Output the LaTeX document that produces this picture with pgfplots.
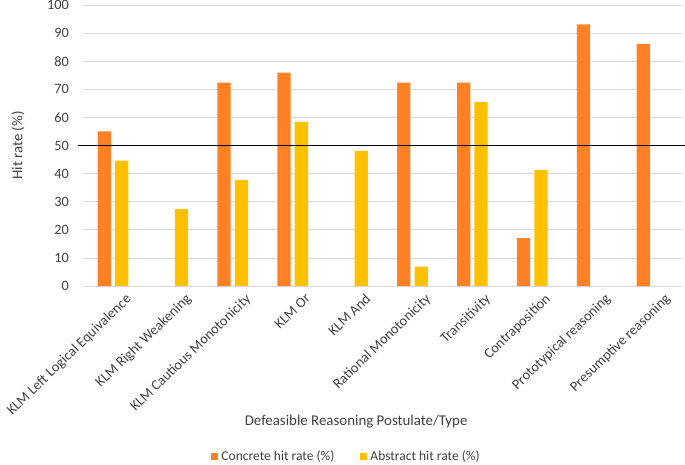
\documentclass[border=0pt]{standalone}
\usepackage{fontspec}
\setmainfont{Carlito}
\usepackage{pgfplots}
\pgfplotsset{compat=1.18}
\definecolor{conc}{HTML}{FF8025}
\definecolor{abst}{HTML}{FFC000}
\definecolor{txt}{HTML}{404040}
\definecolor{grd}{HTML}{D9D9D9}
\begin{document}
\begin{tikzpicture}
\useasboundingbox (-83pt,-178pt) rectangle (602pt,286pt);
\begin{axis}[
  at={(0pt,0pt)}, anchor=south west,
  scale only axis, width=599pt, height=281pt,
  ybar=4.1pt, bar width=13.3pt,
  xmin=-0.5, xmax=9.5, ymin=0, ymax=100,
  ytick={0,10,...,100},
  xtick={0,...,9},
  xticklabels={KLM Left Logical Equivalence, KLM Right Weakening, KLM Cautious Monotonicity, KLM Or, KLM And, Rational Monotonicity, Transitivity, Contraposition, Prototypical reasoning, Presumptive reasoning},
  major tick length=0pt,
  axis line style={draw=none},
  ymajorgrids, grid style={grd, line width=0.8pt},
  /pgf/number format/assume math mode=true,
  tick label style={font=\fontsize{14.3}{17}\selectfont, text=txt},
  yticklabel style={inner sep=0pt, xshift=-14pt},
  xticklabel style={rotate=44, anchor=north east, inner sep=0pt, xshift=4pt, yshift=-13pt},
  ylabel={Hit rate (\%)},
  xlabel={Defeasible Reasoning Postulate/Type},
  label style={font=\fontsize{14.9}{17}\selectfont, text=txt},
  ylabel style={at={(axis description cs:-0.1085,0.5)}, anchor=center},
  xlabel style={at={(axis description cs:0.456,-0.484)}, anchor=center},
  clip=false,
  legend columns=2,
  legend style={at={(axis description cs:0.44,-0.607)}, anchor=center, draw=none, fill=none,
    font=\fontsize{13.5}{16}\selectfont, text=txt,
    /tikz/every even column/.append style={column sep=24pt},
    /tikz/every odd column/.append style={column sep=1pt}},
  legend image code/.code={\fill[#1] (0pt,-3.5pt) rectangle (7pt,3.5pt);},
]
\addplot[fill=conc, draw=none] coordinates {(0,55.0) (2,72.4) (3,75.9) (5,72.4) (6,72.4) (7,17.0) (8,93.1) (9,86.2)};
\addlegendentry{Concrete hit rate (\%)}
\addplot[fill=abst, draw=none] coordinates {(0,44.6) (1,27.4) (2,37.8) (3,58.4) (4,48.1) (5,6.9) (6,65.5) (7,41.2)};
\addlegendentry{Abstract hit rate (\%)}
\draw[black, line width=1.3pt] (axis cs:-0.59,50) -- (axis cs:9.6,50);
\end{axis}
\end{tikzpicture}
\end{document}
